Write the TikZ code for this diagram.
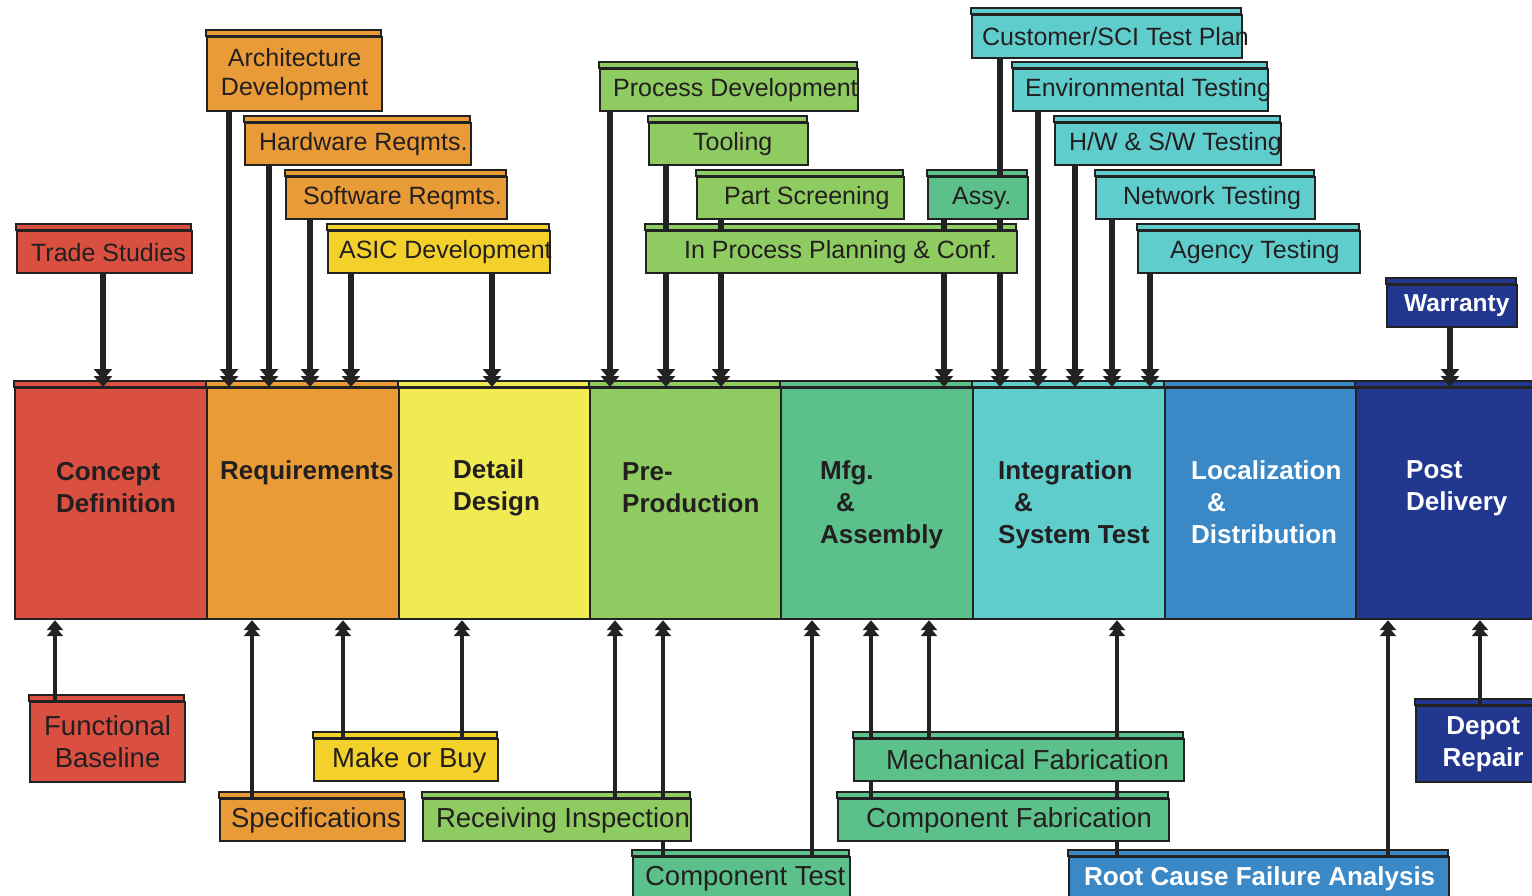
\documentclass[tikz,border=0pt]{standalone}
\usepackage{fontspec}
\setmainfont{Liberation Sans}
\usetikzlibrary{arrows.meta}
\pgfdeclarelayer{strip}
\pgfdeclarelayer{conn}
\pgfsetlayers{strip,conn,main}
\definecolor{ln}{HTML}{222222}
\definecolor{ink}{HTML}{231F20}
\definecolor{cRed}{HTML}{D95040}
\definecolor{cOra}{HTML}{E99B38}
\definecolor{cYel}{HTML}{F0EB52}
\definecolor{cAsic}{HTML}{F3D02A}
\definecolor{cGrn}{HTML}{8ECB60}
\definecolor{cMfg}{HTML}{5CC08A}
\definecolor{cCyan}{HTML}{60CDCD}
\definecolor{cLoc}{HTML}{3A88C6}
\definecolor{cNavy}{HTML}{22378F}
\tikzset{
  bx/.style={draw=ln, line width=2.2pt, anchor=north west, inner ysep=0pt, text=ink,
    font=\fontsize{25}{29}\selectfont},
  bot/.style={font=\fontsize{27.5}{32}\selectfont},
  wb/.style={text=white, font=\bfseries\fontsize{26}{32}\selectfont},
  strp/.style={draw=ln, line width=2.2pt},
  phase/.style={draw=ln, line width=2.2pt, anchor=north west, minimum height=231pt, inner sep=0pt},
  ptext/.style={anchor=west, align=left, inner sep=0pt, text=ink,
    font=\bfseries\fontsize{26}{32}\selectfont},
  arrdown/.style={draw=ln, line width=5.8pt,
    -{Triangle[width=18pt,length=11pt,sep=-4pt]Triangle[width=18pt,length=11pt]}},
  arrup/.style={draw=ln, line width=4pt, shorten <=-6pt,
    -{Triangle[width=16pt,length=10pt,sep=-4pt]Triangle[width=16pt,length=10pt]}},
}
% left aligned box: name, colour, x1, y1, x2, y2, pad, options, text
\newcommand\lbox[9]{%
  \pgfmathsetmacro\bw{#5-#3}%
  \pgfmathsetmacro\bh{#6-#4-6}%
  \pgfmathsetmacro\tw{#5-#3-2*#7}%
  \node[bx,fill=#2,minimum width=\bw pt,minimum height=\bh pt,inner xsep=#7pt,#8] (#1) at (#3,#4+6) {\makebox[\tw pt][l]{#9}};%
  \begin{pgfonlayer}{strip}\draw[strp,fill=#2] (#1.north west) rectangle ++(\bw,-6);\end{pgfonlayer}%
}
% centred box: name, colour, x1, y1, x2, y2, options, text
\newcommand\cbox[8]{%
  \pgfmathsetmacro\bw{#5-#3}%
  \pgfmathsetmacro\bh{#6-#4-6}%
  \node[bx,fill=#2,minimum width=\bw pt,minimum height=\bh pt,inner xsep=0pt,align=center,#7] (#1) at (#3,#4+6) {#8};%
  \begin{pgfonlayer}{strip}\draw[strp,fill=#2] (#1.north west) rectangle ++(\bw,-6);\end{pgfonlayer}%
}
% phase column: name, colour, x1, x2
\newcommand\phz[4]{%
  \pgfmathsetmacro\pw{#4-#3}%
  \node[phase,fill=#2,minimum width=\pw pt] (#1) at (#3,387) {};%
  \begin{pgfonlayer}{strip}\draw[strp,fill=#2] (#1.north west) rectangle ++(\pw,-6);\end{pgfonlayer}%
}
\begin{document}
\begin{tikzpicture}[x=1pt,y=-1pt]
\useasboundingbox (0,0) rectangle (1532,896);

% phases
\phz{p1}{cRed}{14}{206}
\phz{p2}{cOra}{206}{398}
\phz{p3}{cYel}{398}{589}
\phz{p4}{cGrn}{589}{780}
\phz{p5}{cMfg}{780}{972}
\phz{p6}{cCyan}{972}{1164}
\phz{p7}{cLoc}{1164}{1355}
\phz{p8}{cNavy}{1355}{1548}

\node[ptext] (t1) at (56,488) {Concept\\Definition};
\node[ptext] (t2) at (220,473) {Requirements};
\node[ptext] (t3) at (453,488) {Detail\\Design};
\node[ptext] (t4) at (622,488) {Pre-\\Production};
\node[ptext] (t5) at (820,505) {Mfg.\\\hspace*{16pt}\&\\Assembly};
\node[ptext] (t6) at (998,505) {Integration\\\hspace*{16pt}\&\\System Test};
\node[ptext,text=white] (t7) at (1191,502) {Localization\\\hspace*{16pt}\&\\Distribution};
\node[ptext,text=white] (t8) at (1406,488) {Post\\Delivery};

% top boxes
\lbox{ts}{cRed}{16}{224}{191}{272}{14}{}{Trade Studies}
\cbox{arch}{cOra}{206}{30}{381}{110}{xshift=0pt}{Architecture\\Development}
\lbox{hw}{cOra}{244}{116}{470}{164}{14}{}{Hardware Reqmts.}
\lbox{sw}{cOra}{285}{170}{506}{218}{17}{}{Software Reqmts.}
\lbox{asic}{cAsic}{327}{224}{549}{272}{11}{}{ASIC Development}
\lbox{pd}{cGrn}{599}{62}{857}{110}{13}{}{Process Development}
\lbox{tool}{cGrn}{648}{116}{807}{164}{44}{}{Tooling}
\lbox{ps}{cGrn}{696}{170}{903}{218}{27}{}{Part Screening}
\lbox{assy}{cMfg}{927}{170}{1027}{218}{24}{}{Assy.}
\lbox{ipp}{cGrn}{645}{224}{1016}{272}{38}{}{In Process Planning \& Conf.}
\lbox{cust}{cCyan}{971}{8}{1241}{57}{10}{}{Customer/SCI Test Plan}
\lbox{env}{cCyan}{1012}{62}{1267}{110}{12}{}{Environmental Testing}
\lbox{hsw}{cCyan}{1054}{116}{1280}{164}{14}{}{H/W \& S/W Testing}
\lbox{net}{cCyan}{1095}{170}{1314}{218}{27}{}{Network Testing}
\lbox{agy}{cCyan}{1137}{224}{1359}{272}{32}{}{Agency Testing}
\lbox{war}{cNavy}{1386}{278}{1516}{326}{17}{wb,font=\bfseries\fontsize{24.5}{30}\selectfont}{Warranty}

% bottom boxes
\cbox{fb}{cRed}{29}{695}{184}{781}{bot}{Functional\\Baseline}
\lbox{spec}{cOra}{219}{792}{404}{840}{11}{bot}{Specifications}
\lbox{mob}{cAsic}{313}{732}{497}{780}{18}{bot}{Make or Buy}
\lbox{ri}{cGrn}{422}{792}{690}{840}{13}{bot}{Receiving Inspection}
\lbox{ct}{cMfg}{632}{850}{849}{900}{12}{bot}{Component Test}
\lbox{mf}{cMfg}{853}{732}{1183}{780}{32}{bot}{Mechanical Fabrication}
\lbox{cf}{cMfg}{837}{792}{1168}{840}{28}{bot}{Component Fabrication}
\lbox{rc}{cLoc}{1068}{850}{1448}{900}{15}{wb}{Root Cause Failure Analysis}
\cbox{dep}{cNavy}{1415}{699}{1549}{781}{wb}{Depot\\Repair}

% connectors
\begin{pgfonlayer}{conn}
\draw[arrdown] (ts.south -| 103,0) -- (p1.north -| 103,0);
\draw[arrdown] (arch.south -| 229,0) -- (p2.north -| 229,0);
\draw[arrdown] (hw.south -| 269,0) -- (p2.north -| 269,0);
\draw[arrdown] (sw.south -| 310,0) -- (p2.north -| 310,0);
\draw[arrdown] (asic.south -| 351,0) -- (p2.north -| 351,0);
\draw[arrdown] (asic.south -| 492,0) -- (p3.north -| 492,0);
\draw[arrdown] (pd.south -| 610,0) -- (p4.north -| 610,0);
\draw[arrdown] (tool.south -| 666,0) -- (p4.north -| 666,0);
\draw[arrdown] (ps.south -| 721,0) -- (p4.north -| 721,0);
\draw[arrdown] (assy.south -| 944,0) -- (p5.north -| 944,0);
\draw[arrdown] (cust.south -| 1000,0) -- (p6.north -| 1000,0);
\draw[arrdown] (env.south -| 1038,0) -- (p6.north -| 1038,0);
\draw[arrdown] (hsw.south -| 1075,0) -- (p6.north -| 1075,0);
\draw[arrdown] (net.south -| 1112,0) -- (p6.north -| 1112,0);
\draw[arrdown] (agy.south -| 1150,0) -- (p6.north -| 1150,0);
\draw[arrdown] (war.south -| 1450,0) -- (p8.north -| 1450,0);

\draw[arrup] (fb.north -| 55,0) -- (p1.south -| 55,0);
\draw[arrup] (spec.north -| 252,0) -- (p2.south -| 252,0);
\draw[arrup] (mob.north -| 343,0) -- (p2.south -| 343,0);
\draw[arrup] (mob.north -| 462,0) -- (p3.south -| 462,0);
\draw[arrup] (ri.north -| 615,0) -- (p4.south -| 615,0);
\draw[arrup] (ct.north -| 663,0) -- (p4.south -| 663,0);
\draw[arrup] (ct.north -| 812,0) -- (p5.south -| 812,0);
\draw[arrup] (cf.north -| 871,0) -- (p5.south -| 871,0);
\draw[arrup] (mf.north -| 929,0) -- (p5.south -| 929,0);
\draw[arrup] (rc.north -| 1117,0) -- (p6.south -| 1117,0);
\draw[arrup] (rc.north -| 1388,0) -- (p8.south -| 1388,0);
\draw[arrup] (dep.north -| 1480,0) -- (p8.south -| 1480,0);
\end{pgfonlayer}
\end{tikzpicture}
\end{document}
